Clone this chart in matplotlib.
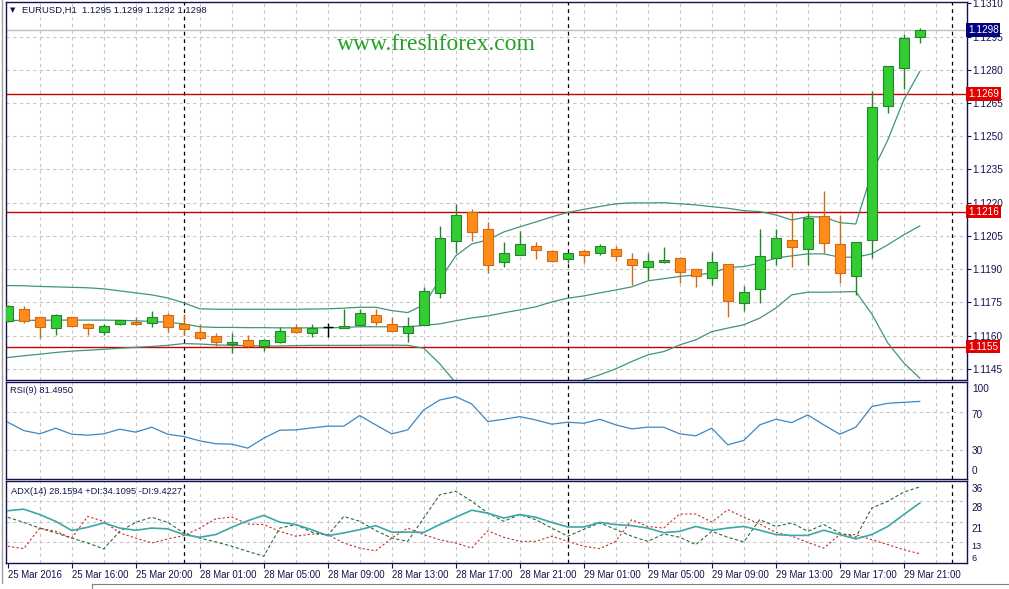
import matplotlib
matplotlib.use("Agg")
import matplotlib.pyplot as plt
import matplotlib.transforms as mtrans
from matplotlib.patches import Rectangle
from matplotlib.lines import Line2D

# === Data (EURUSD H1, 25 Mar 12:00 .. 29 Mar 22:00) ===
opens = [1.11667, 1.11719, 1.11683, 1.11634, 1.11683, 1.11652, 1.11618, 1.11652, 1.11662, 1.11659,
         1.11694, 1.11654, 1.11618, 1.11600, 1.11561, 1.11581, 1.11551, 1.11570, 1.11636, 1.11611,
         1.11641, 1.11635, 1.11650, 1.11692, 1.11652, 1.11611, 1.11650, 1.11792, 1.12029, 1.12157,
         1.12080, 1.11931, 1.11963, 1.12005, 1.11982, 1.11945, 1.11982, 1.11972, 1.11990, 1.11945,
         1.11912, 1.11931, 1.11950, 1.11900, 1.11862, 1.11922, 1.11749, 1.11810, 1.11950, 1.12032,
         1.11990, 1.12142, 1.12013, 1.11871, 1.12032, 1.12638, 1.12810, 1.12950]
highs = [1.11740, 1.11734, 1.11686, 1.11697, 1.11686, 1.11659, 1.11654, 1.11672, 1.11683, 1.11712,
         1.11701, 1.11697, 1.11652, 1.11611, 1.11614, 1.11603, 1.11583, 1.11641, 1.11654, 1.11654,
         1.11659, 1.11721, 1.11722, 1.11722, 1.11683, 1.11683, 1.11821, 1.12095, 1.12195, 1.12172,
         1.12112, 1.12022, 1.12074, 1.12022, 1.11987, 1.11972, 1.11990, 1.12014, 1.12005, 1.11972,
         1.11972, 1.12002, 1.11954, 1.11900, 1.11979, 1.11922, 1.11825, 1.12080, 1.12080, 1.12157,
         1.12153, 1.12253, 1.12145, 1.12022, 1.12706, 1.12819, 1.12962, 1.12990]
lows = [1.11660, 1.11659, 1.11588, 1.11603, 1.11640, 1.11603, 1.11603, 1.11646, 1.11650, 1.11641,
        1.11618, 1.11603, 1.11581, 1.11555, 1.11521, 1.11550, 1.11531, 1.11568, 1.11611, 1.11593,
        1.11593, 1.11635, 1.11643, 1.11650, 1.11620, 1.11569, 1.11650, 1.11769, 1.11972, 1.12029,
        1.11882, 1.11912, 1.11963, 1.11945, 1.11931, 1.11930, 1.11930, 1.11963, 1.11939, 1.11830,
        1.11852, 1.11927, 1.11837, 1.11821, 1.11829, 1.11683, 1.11709, 1.11749, 1.11919, 1.11912,
        1.11919, 1.11972, 1.11837, 1.11784, 1.11950, 1.12604, 1.12712, 1.12920]
closes = [1.11734, 1.11668, 1.11641, 1.11694, 1.11644, 1.11634, 1.11644, 1.11670, 1.11652, 1.11683,
          1.11641, 1.11632, 1.11591, 1.11569, 1.11572, 1.11553, 1.11581, 1.11621, 1.11618, 1.11634,
          1.11641, 1.11644, 1.11701, 1.11661, 1.11620, 1.11644, 1.11801, 1.12040, 1.12145, 1.12070,
          1.11921, 1.11972, 1.12013, 1.11988, 1.11939, 1.11972, 1.11963, 1.12005, 1.11961, 1.11921,
          1.11939, 1.11942, 1.11889, 1.11870, 1.11931, 1.11758, 1.11799, 1.11961, 1.12040, 1.12002,
          1.12130, 1.12020, 1.11882, 1.12022, 1.12631, 1.12819, 1.12942, 1.12980]

bb_upper = [1.11826, 1.11825, 1.11822, 1.11820, 1.11818, 1.11816, 1.11811, 1.11802, 1.11793, 1.11784,
            1.11770, 1.11748, 1.11721, 1.11719, 1.11719, 1.11719, 1.11719, 1.11719, 1.11719, 1.11720,
            1.11721, 1.11724, 1.11728, 1.11728, 1.11713, 1.11704, 1.11739, 1.11852, 1.11960, 1.12014,
            1.12032, 1.12068, 1.12091, 1.12113, 1.12136, 1.12156, 1.12170, 1.12183, 1.12195, 1.12199,
            1.12199, 1.12200, 1.12195, 1.12190, 1.12182, 1.12175, 1.12164, 1.12160, 1.12145, 1.12122,
            1.12137, 1.12135, 1.12110, 1.12104, 1.12334, 1.12483, 1.12664, 1.12792]
bb_mid = [1.11668, 1.11669, 1.11669, 1.11670, 1.11670, 1.11670, 1.11670, 1.11669, 1.11667, 1.11664,
          1.11660, 1.11653, 1.11640, 1.11637, 1.11637, 1.11636, 1.11636, 1.11635, 1.11635, 1.11635,
          1.11635, 1.11637, 1.11640, 1.11640, 1.11640, 1.11640, 1.11646, 1.11653, 1.11667, 1.11680,
          1.11689, 1.11703, 1.11716, 1.11730, 1.11752, 1.11769, 1.11779, 1.11793, 1.11806, 1.11820,
          1.11847, 1.11857, 1.11867, 1.11874, 1.11882, 1.11907, 1.11912, 1.11927, 1.11950, 1.11960,
          1.11969, 1.11969, 1.11954, 1.11954, 1.11969, 1.12010, 1.12055, 1.12095]
bb_lower = [1.11501, 1.11509, 1.11516, 1.11524, 1.11530, 1.11534, 1.11538, 1.11543, 1.11547, 1.11551,
            1.11556, 1.11564, 1.11562, 1.11558, 1.11556, 1.11555, 1.11553, 1.11553, 1.11555, 1.11556,
            1.11556, 1.11556, 1.11556, 1.11557, 1.11557, 1.11556, 1.11543, 1.11473, 1.11387, 1.11346,
            1.11319, 1.11310, 1.11310, 1.11315, 1.11328, 1.11351, 1.11400, 1.11423, 1.11450, 1.11483,
            1.11513, 1.11528, 1.11558, 1.11581, 1.11618, 1.11634, 1.11649, 1.11679, 1.11724, 1.11784,
            1.11796, 1.11796, 1.11797, 1.11799, 1.11698, 1.11567, 1.11477, 1.11408]

rsi = [59.5, 50.7, 47.2, 53.2, 46.8, 45.8, 47.2, 52.1, 49.0, 54.2, 46.8, 44.4, 39.8, 36.7, 36.3,
       32.1, 42.6, 51.0, 51.4, 53.5, 55.3, 55.3, 66.5, 56.7, 47.2, 51.4, 72.5, 83.0, 86.5, 78.8,
       60.2, 62.6, 65.4, 61.9, 57.4, 59.5, 58.4, 62.6, 56.7, 52.5, 54.2, 54.2, 47.2, 45.1, 53.2,
       35.6, 40.2, 56.7, 62.6, 59.1, 67.2, 56.7, 46.8, 54.2, 76.0, 79.5, 80.5, 81.5]

adx = [25.3, 25.9, 23.9, 21.4, 18.0, 19.2, 20.8, 18.9, 18.1, 18.9, 18.6, 16.5, 15.5, 16.5, 19.2,
       21.6, 23.6, 21.1, 20.2, 18.3, 16.1, 17.1, 18.3, 19.8, 17.4, 17.4, 17.3, 20.2, 22.9, 25.5,
       24.4, 22.6, 23.9, 22.9, 21.0, 19.3, 19.3, 21.0, 20.2, 19.8, 18.9, 17.2, 17.7, 19.5, 18.1,
       18.9, 19.5, 18.1, 16.5, 16.2, 16.2, 18.1, 16.5, 14.9, 16.5, 19.5, 23.9, 28.16]
plus_di = [22.9, 21.0, 18.9, 17.1, 15.2, 13.4, 11.2, 17.7, 21.0, 22.9, 21.0, 17.1, 15.2, 13.8, 12.2,
           10.3, 8.5, 18.9, 20.2, 17.4, 16.2, 23.2, 21.4, 18.0, 15.2, 14.0, 22.6, 31.2, 32.5, 28.8,
           24.5, 21.4, 23.9, 22.0, 18.9, 15.9, 18.4, 20.8, 18.4, 15.9, 14.0, 16.7, 15.5, 12.8, 17.7,
           15.5, 13.8, 22.0, 19.5, 20.8, 17.7, 20.2, 17.1, 15.5, 26.3, 28.8, 32.2, 34.11]
minus_di = [12.2, 11.3, 18.9, 17.7, 15.2, 23.2, 21.4, 17.1, 15.2, 13.4, 14.9, 16.1, 18.9, 22.3, 23.0,
            20.4, 20.2, 17.7, 15.9, 16.7, 16.5, 13.4, 11.5, 10.5, 15.2, 18.9, 16.5, 14.6, 13.4, 11.5,
            17.9, 15.5, 14.0, 14.0, 15.9, 14.0, 12.2, 11.3, 14.0, 22.0, 19.5, 18.9, 24.1, 24.1, 21.1,
            25.7, 22.9, 20.4, 17.3, 15.9, 13.6, 11.5, 16.5, 16.5, 14.6, 12.8, 10.9, 9.42]

time_idx = [0, 4, 8, 12, 16, 20, 24, 28, 32, 36, 40, 44, 48, 52, 56]
time_labels = ["25 Mar 2016", "25 Mar 16:00", "25 Mar 20:00", "28 Mar 01:00", "28 Mar 05:00",
               "28 Mar 09:00", "28 Mar 13:00", "28 Mar 17:00", "28 Mar 21:00", "29 Mar 01:00",
               "29 Mar 05:00", "29 Mar 09:00", "29 Mar 13:00", "29 Mar 17:00", "29 Mar 21:00"]
day_breaks = [11, 35, 59]
levels = [1.1269, 1.1216, 1.1155]
bid = 1.1298
price_ticks = [1.1145, 1.1160, 1.1175, 1.1190, 1.1205, 1.1220, 1.1235, 1.1250, 1.1265, 1.1280, 1.1295, 1.1310]

# === Style ===
plt.rcParams["font.family"] = ["Liberation Sans", "DejaVu Sans"]
FS = 7.2
NAVY = "#12124e"
GRID = "#c6c6c6"
BB_COL = "#3f957a"
UP_FILL, UP_EDGE = "#33cc33", "#23862a"
DN_FILL, DN_EDGE = "#ff8c1a", "#d06a14"

W, H = 1009, 589
fig = plt.figure(figsize=(W / 100, H / 100), dpi=100)
fig.patch.set_facecolor("white")


def px_axes(x0, y0, x1, y1):
    return fig.add_axes([x0 / W, 1 - y1 / H, (x1 - x0) / W, (y1 - y0) / H])


XLIM = (-0.106, 59.92)
ax = px_axes(6, 1.5, 966.5, 380)
ax_rsi = px_axes(6, 382, 966.5, 478.5)
ax_adx = px_axes(6, 480.7, 966.5, 563)

for a in (ax, ax_rsi, ax_adx):
    a.set_xlim(*XLIM)
    for s in a.spines.values():
        s.set_color(NAVY)
        s.set_linewidth(1.0)
    for i in range(2, 60, 2):
        a.axvline(i, color=GRID, lw=0.8, ls=(0, (3, 3)), zorder=0)
    for d in day_breaks:
        a.axvline(d, color="black", lw=0.9, ls=(0, (3, 3)), zorder=1)
    a.tick_params(axis="x", which="both", bottom=False, labelbottom=False)

# --- main price panel ---
ax.set_ylim(1.113996, 1.131084)
for p in price_ticks[:-1]:
    ax.axhline(p, color=GRID, lw=0.8, ls=(0, (3, 3)), zorder=0)
ax.axhline(bid, color="#c0c0c0", lw=1.0, zorder=1)
for lv in levels:
    ax.axhline(lv, color="#c80000", lw=1.0, zorder=2)

xs = list(range(len(closes)))
ax.plot(xs, bb_upper, color=BB_COL, lw=0.9, zorder=2)
ax.plot(xs, bb_mid, color=BB_COL, lw=0.9, zorder=2)
ax.plot(xs, bb_lower, color=BB_COL, lw=0.9, zorder=2)

bw = 0.64
for i, (o, h, l, c) in enumerate(zip(opens, highs, lows, closes)):
    if c > o:
        fill, edge = UP_FILL, UP_EDGE
    elif c < o:
        fill, edge = DN_FILL, DN_EDGE
    else:
        ax.vlines(i, l, h, color="black", lw=1.0, zorder=3)
        ax.hlines(o, i - bw / 2, i + bw / 2, color="black", lw=1.0, zorder=3)
        continue
    ax.vlines(i, l, h, color=edge, lw=1.0, zorder=3)
    ax.add_patch(Rectangle((i - bw / 2, min(o, c)), bw, abs(c - o),
                           facecolor=fill, edgecolor=edge, lw=0.8, zorder=4))

ax.yaxis.tick_right()
ax.set_yticks(price_ticks)
ax.set_yticklabels([f"{p:.4f}" for p in price_ticks])
ax.tick_params(axis="y", length=3, width=0.8, pad=1.5, labelsize=FS, colors=NAVY)

ytrans = mtrans.blended_transform_factory(ax.transAxes, ax.transData)
for val, col in [(bid, "#000080")] + [(lv, "#e00000") for lv in levels]:
    ax.text(1.0015, val, f"{val:.4f}", transform=ytrans, ha="left", va="center",
            fontsize=FS, color="white", clip_on=False, zorder=10,
            bbox=dict(boxstyle="square,pad=0.18", fc=col, ec="none"))

ax.text(0.0045, 0.976, "\u25bc", transform=ax.transAxes, fontsize=5, color=NAVY,
        family="DejaVu Sans", va="center", ha="left")
ax.text(0.0165, 0.976, "EURUSD,H1  1.1295 1.1299 1.1292 1.1298", transform=ax.transAxes,
        fontsize=FS - 0.4, color=NAVY, va="center", ha="left")
fig.text(436 / W, 1 - 45 / H, "www.freshforex.com", family=["Liberation Serif", "DejaVu Serif"],
         fontsize=17, color="#24a024", ha="center", va="center")

# --- RSI panel ---
ax_rsi.set_ylim(0, 102)
for lv in (70, 30):
    ax_rsi.axhline(lv, color=GRID, lw=0.8, ls=(0, (3, 3)), zorder=0)
ax_rsi.plot(xs, rsi, color="#3d86c0", lw=0.9, zorder=3)
ax_rsi.set_yticks([])
rt = mtrans.blended_transform_factory(ax_rsi.transAxes, ax_rsi.transData)
for val, va, dy in [(102, "top", -2), (70, "center", -2.5), (30, "center", -0.5), (0, "bottom", 2)]:
    ax_rsi.text(1.0055, val, "100" if val == 102 else str(val), fontsize=FS, color=NAVY, ha="left", va=va,
                clip_on=False, transform=mtrans.offset_copy(rt, fig=fig, y=dy, units="dots"))
ax_rsi.text(0.004, 0.91, "RSI(9) 81.4950", transform=ax_rsi.transAxes, fontsize=FS - 0.5,
            color=NAVY, ha="left", va="center")

# --- ADX panel ---
ylo, yhi = 6.0, 36.4
ax_adx.set_ylim(ylo, yhi)
q = (yhi - ylo) / 4
at = mtrans.blended_transform_factory(ax_adx.transAxes, ax_adx.transData)
for k in (1, 2, 3):
    ax_adx.axhline(yhi - k * q, color=GRID, lw=0.8, ls=(0, (3, 3)), zorder=0)
ax_adx.plot(xs, adx, color="#3aa8a8", lw=1.2, zorder=4)
ax_adx.plot(xs, plus_di, color="#2c6b3c", lw=0.8, ls=(0, (3, 2)), zorder=3)
ax_adx.plot(xs, minus_di, color="#cc2a2a", lw=0.8, ls=(0, (2, 2)), zorder=3)
ax_adx.set_yticks([])
adx_lab = [("top", -3, FS), ("top", -2, FS), ("top", -2, FS), ("top", 0, FS - 0.6), ("bottom", 0, FS - 0.6)]
for k, (va, dy, fs) in enumerate(adx_lab):
    val = yhi - k * q
    ax_adx.text(1.0055, val, str(int(val)), fontsize=fs, color=NAVY, ha="left", va=va,
                clip_on=False, transform=mtrans.offset_copy(at, fig=fig, y=dy, units="dots"))
ax_adx.text(0.005, 0.87, "ADX(14) 28.1594 +DI:34.1095 -DI:9.4227", transform=ax_adx.transAxes,
            fontsize=FS - 0.5, color=NAVY, ha="left", va="center")

ax_adx.set_xticks(time_idx)
ax_adx.set_xticklabels(time_labels, ha="left")
ax_adx.tick_params(axis="x", bottom=True, labelbottom=True, direction="out", length=3.5,
                   width=0.8, pad=1.5, labelsize=FS - 0.3, colors=NAVY)

# window frame bits
fig.add_artist(Line2D([1.5 / W, 1.5 / W], [1 - 583 / H, 1], color="#a0a0a0", lw=1.0))
fig.add_artist(Line2D([92 / W, 1], [1 - 583.5 / H, 1 - 583.5 / H], color="#808080", lw=0.8))
fig.add_artist(Line2D([92 / W, 92 / W], [0, 1 - 583.5 / H], color="#808080", lw=0.8))

fig.savefig("out.png", dpi=100, facecolor="white")
